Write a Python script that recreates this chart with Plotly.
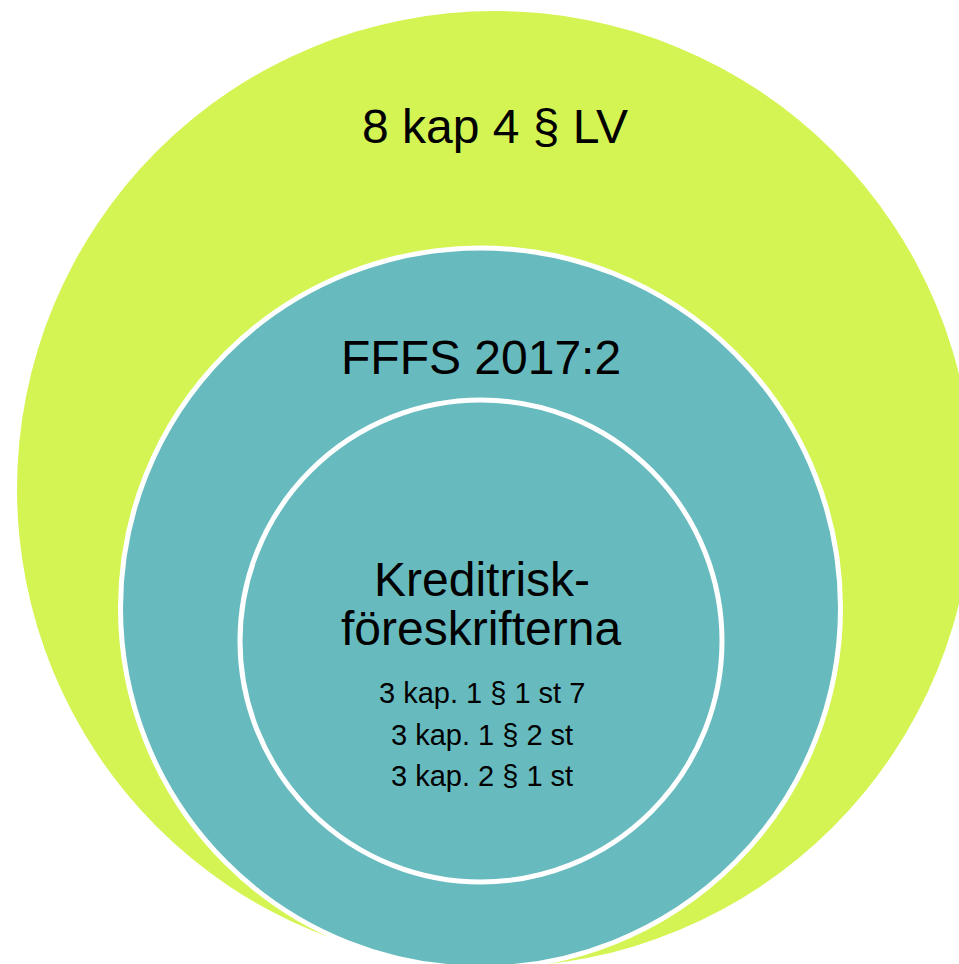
import plotly.graph_objects as go

# Circles (pixel coordinate space: x right, y down)
circle_names = ["8 kap 4 § LV", "FFFS 2017:2", "Kreditriskföreskrifterna"]
circle_cx = [495, 480.5, 481]
circle_cy = [489, 608, 641]
circle_r = [478, 360, 241]
circle_fill = ["#D4F454", "#67BBBF", "#67BBBF"]
circle_line = [0, 5, 5]

# Text labels
label_text = ["8 kap 4 § LV", "FFFS 2017:2", "Kreditrisk-", "föreskrifterna",
              "3 kap. 1 § 1 st 7", "3 kap. 1 § 2 st", "3 kap. 2 § 1 st"]
label_x = [495, 481, 481.5, 481, 481.5, 481.5, 481.5]
label_y = [126, 357, 579.5, 628, 693, 735, 776]
label_size = [48, 48, 48, 48, 29, 29, 29]

W, H = 959, 964

fig = go.Figure()
fig.add_trace(go.Scatter(x=[0, W], y=[0, H], mode="markers",
                         marker=dict(opacity=0), hoverinfo="skip", showlegend=False))

for cx, cy, r, fc, lw in zip(circle_cx, circle_cy, circle_r, circle_fill, circle_line):
    fig.add_shape(type="circle", xref="x", yref="y",
                  x0=cx - r, x1=cx + r, y0=cy - r, y1=cy + r,
                  fillcolor=fc,
                  line=dict(color="white", width=lw) if lw else dict(width=0),
                  layer="below")

for t, x, y, s in zip(label_text, label_x, label_y, label_size):
    fig.add_annotation(x=x, y=y, xref="x", yref="y", text=t, showarrow=False,
                       xanchor="center", yanchor="middle",
                       font=dict(family="Liberation Sans, Arial, sans-serif", size=s, color="black"))

fig.update_layout(
    width=W, height=H,
    margin=dict(l=0, r=0, t=0, b=0),
    paper_bgcolor="white", plot_bgcolor="white",
    xaxis=dict(range=[0, W], visible=False, fixedrange=True),
    yaxis=dict(range=[H, 0], visible=False, fixedrange=True),
    showlegend=False,
)

fig.write_html("out.html", config={"displayModeBar": False},
               post_script="document.body.style.margin='0';document.body.style.overflow='hidden';")
